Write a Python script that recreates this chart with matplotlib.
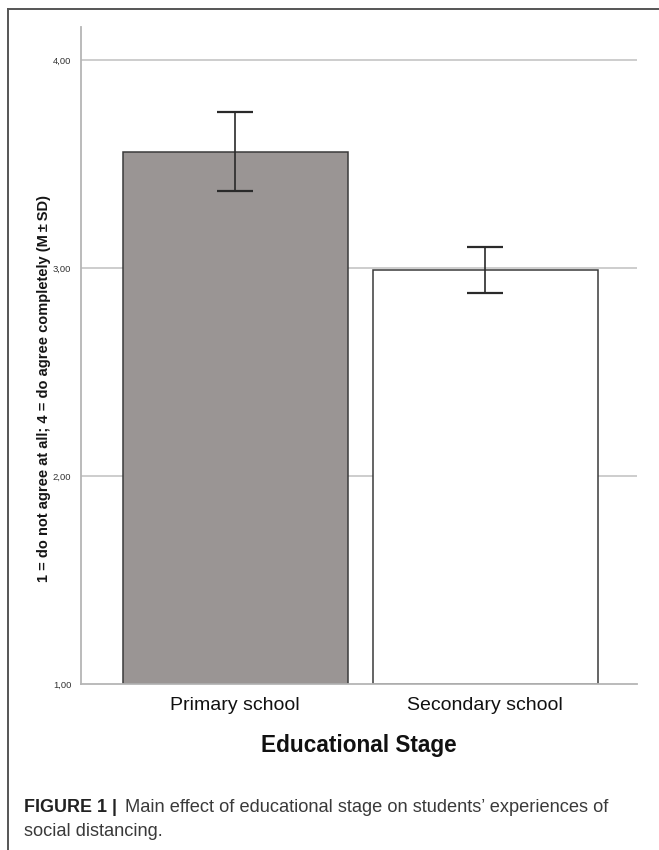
import matplotlib
matplotlib.use("Agg")
import matplotlib.pyplot as plt
from matplotlib.lines import Line2D

# Data: mean agreement (1-4 scale) with standard deviation per stage
stages = ["Primary school", "Secondary school"]
means = [3.56, 2.99]
sds = [0.19, 0.11]
bar_colors = ["#9a9594", "#ffffff"]
yticks = [1.0, 2.0, 3.0, 4.0]
ytick_labels = ["1,00", "2,00", "3,00", "4,00"]

plt.rcParams["font.family"] = ["Liberation Sans", "DejaVu Sans"]

W, H = 659, 850
fig = plt.figure(figsize=(W / 100, H / 100), dpi=100)
renderer = fig.canvas.get_renderer()


def fit_extent(txt, target_px, horizontal=True):
    """Scale a text's font size so its extent matches target_px."""
    for _ in range(4):
        bb = txt.get_window_extent(renderer=renderer)
        cur = bb.width if horizontal else bb.height
        txt.set_fontsize(txt.get_fontsize() * target_px / cur)


ax = fig.add_axes([81 / W, 1 - 684 / H, (637 - 81) / W, (684 - 27) / H])
ax.set_xlim(-0.616, 1.608)
ax.set_ylim(1.0, 4.16)

# gridlines
for t in yticks[1:]:
    ax.axhline(t, color="#c9c9c9", lw=1.3, zorder=0)

x = list(range(len(stages)))
ax.bar(x, [m - 1.0 for m in means], bottom=1.0, width=0.9,
       color=bar_colors, edgecolor="#3a3a3a", linewidth=1.1, zorder=2)
ax.errorbar(x, means, yerr=sds, fmt="none", ecolor="#2a2a2a",
            elinewidth=1.2, capsize=13, capthick=1.6, zorder=3)

for s in ["top", "right"]:
    ax.spines[s].set_visible(False)
for s in ["left", "bottom"]:
    ax.spines[s].set_color("#b5b5b5")
    ax.spines[s].set_linewidth(1.3)

ax.set_yticks(yticks)
ax.set_yticklabels(ytick_labels, fontsize=6.8, color="#333333")
ax.tick_params(axis="y", length=0, pad=7)
ax.set_xticks(x)
ax.set_xticklabels(stages, fontsize=14, color="#111111")
ax.tick_params(axis="x", length=0, pad=9)

ax.set_xlabel("Educational Stage", fontsize=16.3, fontweight="bold",
              color="#111111", labelpad=15)

ylab = fig.text(44 / W, 1 - 388 / H,
                "1 = do not agree at all; 4 = do agree completely (M\u2009\u00b1\u2009SD)",
                rotation=90, ha="center", va="center", fontsize=11,
                fontweight="bold", color="#151515")
fit_extent(ylab, 384, horizontal=False)

# caption
cap_bold = fig.text(24 / W, 1 - 808 / H, "FIGURE 1 |", fontsize=13,
                    fontweight="bold", color="#222222", va="center", ha="left")
fit_extent(cap_bold, 93)
cap1 = fig.text(125 / W, 1 - 808 / H,
                "Main effect of educational stage on students\u2019 experiences of",
                fontsize=13, color="#3a3a3a", va="center", ha="left")
fit_extent(cap1, 482)
fig.text(24 / W, 1 - 831 / H, "social distancing.", fontsize=cap1.get_fontsize(),
         color="#3a3a3a", va="center", ha="left")

# page frame
fig.add_artist(Line2D([8 / W, 8 / W], [0, 1 - 9 / H], transform=fig.transFigure,
                      color="#555555", lw=1.4))
fig.add_artist(Line2D([8 / W, 1], [1 - 9 / H, 1 - 9 / H], transform=fig.transFigure,
                      color="#555555", lw=1.4))

fig.savefig("out.png", dpi=100)
